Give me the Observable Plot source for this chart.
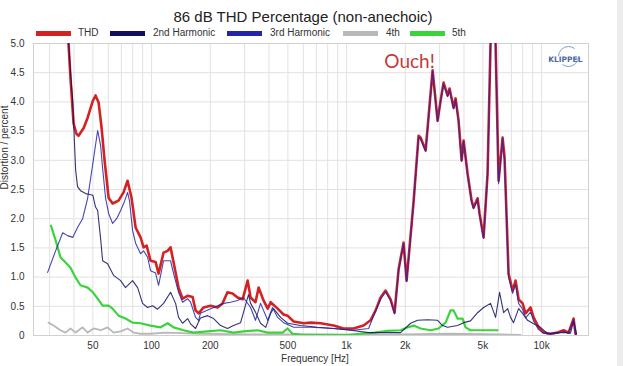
<!DOCTYPE html>
<html><head><meta charset="utf-8">
<script src="https://cdn.jsdelivr.net/npm/d3@7"></script>
<script src="https://cdn.jsdelivr.net/npm/@observablehq/plot@0.6"></script>
<style>
body{margin:0;background:#fff;}
#wrap{position:relative;width:625px;height:366px;overflow:hidden;background:#fff;
  font-family:"Liberation Sans",Arial,sans-serif;}
#title{position:absolute;top:8px;left:303px;transform:translateX(-50%);white-space:nowrap;font-size:15px;line-height:17px;color:#222;}
.lsw{position:absolute;top:31px;width:35px;height:5px;}
.llb{position:absolute;top:27px;font-size:10px;line-height:12px;color:#333;white-space:nowrap;}
#chart{position:absolute;top:38px;left:0;}
#strip{position:absolute;top:0;left:617px;width:6px;height:366px;background:#ececec;}
</style></head>
<body><div id="wrap"><div id="title">86 dB THD Percentage (non-anechoic)</div><div id="chart"></div><div id="strip"></div></div>
<script>
// ---- data: [frequency Hz, percent] ----
const seriesNames = ["THD", "2nd Harmonic", "3rd Harmonic", "4th", "5th"];
const seriesColors = ["#d42222", "#10105e", "#2424a8", "#b8b8b8", "#3ad43a"];

const thd = [[29.3,9.0],[34.1,6.8],[36.6,5.5],[37.5,5.0],[38.4,4.4],[39.8,3.63],[41.2,3.45],[42.2,3.42],[44.8,3.55],[47.0,3.73],[50.0,4.02],[51.6,4.11],[53.5,3.99],[55.4,3.56],[57.4,3.0],[60.2,2.36],[63.1,2.26],[67.7,2.31],[71.8,2.45],[75.3,2.65],[78.9,2.36],[82.8,1.85],[87.8,1.68],[91.0,1.51],[94.3,1.54],[98.8,1.28],[104.8,1.26],[108.6,1.06],[115.2,1.42],[120.8,1.45],[125.1,1.51],[129.7,1.25],[137.5,0.82],[144.2,0.63],[153,0.68],[162.3,0.66],[168.1,0.43],[174.2,0.38],[184.8,0.48],[201,0.51],[218,0.48],[231,0.55],[245,0.74],[260,0.72],[276,0.65],[293,0.62],[311,0.94],[322,0.65],[341,0.57],[354,0.82],[375,0.60],[394,0.46],[408,0.57],[443,0.46],[475,0.36],[498,0.34],[535,0.24],[602,0.21],[654,0.22],[736,0.21],[858,0.17],[965,0.12],[1086,0.12],[1222,0.17],[1327,0.26],[1409,0.43],[1494,0.65],[1585,0.77],[1681,0.62],[1762,0.39],[1849,1.14],[1960,1.59],[2031,0.94],[2179,2.09],[2208,2.31],[2340,3.42],[2395,3.39],[2543,3.17],[2761,4.54],[2929,3.68],[3033,4.02],[3143,4.33],[3296,4.11],[3373,4.23],[3537,3.90],[3622,4.06],[3752,3.68],[3890,3.00],[3981,3.34],[4174,2.77],[4376,2.31],[4479,2.19],[4695,2.35],[4806,2.09],[5041,1.68],[5284,2.77],[5473,5.0],[5607,5.8],[5808,5.0],[6019,2.65],[6310,3.39],[6457,3.05],[6771,1.06],[7100,0.77],[7356,0.94],[7623,0.62],[7990,0.55],[8277,0.38],[8777,0.48],[9099,0.31],[9655,0.14],[10240,0.05],[11115,0.03],[12078,0.05],[12971,0.09],[13752,0.05],[14590,0.29],[14930,0.03]];

const h2 = [[29.3,8.0],[34.1,6.5],[37.1,5.3],[38.4,4.5],[39.4,4.0],[40.8,2.83],[41.7,2.55],[43.2,2.48],[45.9,2.43],[47.5,2.42],[50.0,2.40],[51.6,2.2],[52.9,2.14],[54.8,1.65],[56.1,1.28],[59.5,1.23],[63.8,1.03],[69.4,0.94],[73.5,0.82],[79.9,0.94],[84.8,0.82],[89.9,0.55],[95.4,0.48],[101.2,0.51],[107.3,0.45],[115.2,0.55],[125.1,0.74],[132.8,0.55],[137.5,0.31],[144.2,0.21],[153,0.29],[158.5,0.2],[168.1,0.12],[178,0.30],[193.7,0.34],[208,0.29],[226,0.17],[245,0.12],[263,0.17],[286,0.22],[314,0.70],[322,0.55],[341,0.40],[362,0.21],[385,0.14],[408,0.38],[422,0.46],[459,0.31],[498,0.21],[581,0.17],[710,0.14],[858,0.12],[1049,0.09],[1297,0.05],[1494,0.05],[1892,0.05],[2129,0.21],[2312,0.26],[2602,0.27],[2929,0.26],[3106,0.17],[3296,0.14],[3706,0.17],[3981,0.22],[4322,0.25],[4695,0.39],[5041,0.48],[5473,0.55],[5808,0.31],[6090,0.74],[6385,0.39],[6696,0.46],[6931,0.31],[7182,0.22],[7623,0.46],[7990,0.38],[8477,0.26],[9099,0.20],[9877,0.14],[10735,0.03],[12078,0.05],[13273,0.05],[14075,0.04],[14590,0.25],[15110,0.02]];

const h3 = [[29.3,1.08],[32.2,1.45],[35.0,1.76],[37.1,1.71],[39.4,1.68],[41.7,1.85],[44.3,2.0],[47.0,2.35],[50.0,2.95],[52.9,3.51],[54.8,3.25],[56.1,2.86],[58.1,2.35],[60.2,2.09],[63.1,1.92],[66.2,2.0],[69.4,2.14],[72.7,2.30],[75.3,2.45],[77.1,2.3],[79.9,1.8],[82.8,1.58],[87.8,1.40],[91.0,1.45],[95.4,1.34],[98.8,1.11],[104.8,1.07],[108.6,0.86],[115.2,1.28],[125.1,1.28],[129.7,1.06],[137.5,0.74],[144.2,0.57],[153,0.63],[158.5,0.57],[168.1,0.31],[174.2,0.26],[178,0.38],[201,0.46],[234,0.55],[254,0.57],[276,0.60],[296,0.65],[322,0.48],[341,0.26],[362,0.55],[394,0.26],[417,0.48],[443,0.31],[475,0.22],[535,0.14],[654,0.14],[858,0.12],[1086,0.09],[1297,0.12],[1392,0.38],[1494,0.62],[1585,0.75],[1681,0.60],[1762,0.37],[1849,1.12],[1960,1.57],[2031,0.92],[2179,2.07],[2208,2.29],[2340,3.40],[2395,3.37],[2543,3.15],[2761,4.52],[2929,3.66],[3033,4.00],[3143,4.31],[3296,4.09],[3373,4.21],[3537,3.88],[3622,4.04],[3752,3.66],[3890,2.98],[3981,3.32],[4174,2.75],[4376,2.29],[4479,2.17],[4695,2.33],[4806,2.07],[5041,1.66],[5284,2.75],[5473,4.98],[5607,5.78],[5808,4.98],[6019,2.60],[6310,3.37],[6457,3.0],[6771,1.0],[7100,0.72],[7356,0.88],[7623,0.55],[7990,0.45],[8277,0.30],[8777,0.40],[9099,0.25],[9655,0.10],[10240,0.04],[11115,0.02],[12078,0.04],[12971,0.07],[13752,0.04],[14590,0.27],[14930,0.02]];

const h4 = [[29.6,0.22],[31.4,0.17],[34.1,0.09],[36.2,0.05],[38.4,0.12],[40.8,0.05],[44.3,0.14],[47.0,0.05],[50.4,0.12],[54.8,0.09],[59.5,0.14],[63.8,0.05],[69.4,0.07],[75.3,0.12],[80.8,0.05],[87.8,0.03],[98.8,0.03],[118,0.05],[141,0.04],[178,0.03],[322,0.02],[581,0.02],[1049,0.01],[1892,0.02],[3413,0.03],[6159,0.02],[7800,0.01]];

const h5 = [[30.5,1.88],[32.2,1.63],[34.1,1.34],[36.2,1.25],[38.4,1.16],[40.8,0.99],[43.2,0.86],[47.0,0.82],[50.0,0.74],[52.9,0.63],[56.1,0.51],[60.2,0.51],[63.1,0.46],[67.7,0.34],[73.5,0.29],[79.9,0.22],[87.8,0.21],[98.8,0.17],[111.2,0.14],[120.8,0.21],[129.7,0.14],[145.9,0.09],[164.2,0.05],[193.7,0.07],[226,0.09],[263,0.05],[296,0.07],[349.7,0.09],[394,0.05],[469.6,0.05],[498,0.12],[528.5,0.03],[602,0.01],[799,0.01],[1012,0.01],[1180,0.03],[1392,0.05],[1622,0.08],[1892,0.09],[2054,0.14],[2208,0.17],[2395,0.12],[2695,0.09],[2963,0.12],[3219,0.22],[3413,0.43],[3537,0.43],[3706,0.29],[3935,0.29],[4076,0.14],[4322,0.09],[4864,0.09],[5473,0.09],[5946,0.09]];

const xTicks = [50, 100, 200, 500, 1000, 2000, 5000, 10000];
const xTickLabels = ["50", "100", "200", "500", "1k", "2k", "5k", "10k"];
const gridFreqs = [30,40,50,60,70,80,90,100,200,300,400,500,600,700,800,900,1000,2000,3000,4000,5000,6000,7000,8000,9000,10000];
const yTicks = [0, 0.5, 1, 1.5, 2, 2.5, 3, 3.5, 4, 4.5, 5];
const annotations = [{f: 2104, v: 4.68, text: "Ouch!"}];

// legend layout (pixel positions of swatch and label)
const legendSwatchX = [36, 110, 227, 343, 410];
const legendLabelX = [78, 153, 270, 386, 452];
const wrap = document.getElementById("wrap");
seriesNames.forEach((n, i) => {
  const sw = document.createElement("div"); sw.className = "lsw";
  sw.style.left = legendSwatchX[i] + "px"; sw.style.background = seriesColors[i];
  const lb = document.createElement("div"); lb.className = "llb";
  lb.style.left = legendLabelX[i] + "px"; lb.textContent = n;
  wrap.appendChild(sw); wrap.appendChild(lb);
});

const font = '"Liberation Sans",Arial,sans-serif';
const fx = d => d[0], fy = d => d[1];
const chart = Plot.plot({
  width: 625, height: 328,
  marginTop: 5, marginBottom: 31, marginLeft: 33, marginRight: 37,
  style: {fontFamily: font, fontSize: "10px", color: "#333", background: "white"},
  x: {type: "log", domain: [24.8, 17400], axis: null},
  y: {domain: [0, 5], axis: null},
  marks: [
    Plot.gridX(gridFreqs, {stroke: "#e2e2e2", strokeOpacity: 1}),
    Plot.gridY(yTicks, {stroke: "#e2e2e2", strokeOpacity: 1}),
    Plot.frame({stroke: "#d0d0d0"}),
    Plot.text(xTicks, {x: d => d, text: (d, i) => xTickLabels[i], frameAnchor: "bottom", dy: 13, fill: "#333"}),
    Plot.text(["Frequency [Hz]"], {frameAnchor: "bottom", dy: 26, dx: 4, fill: "#333"}),
    Plot.text(yTicks, {y: d => d, text: d => d === 0 ? "0" : d.toFixed(1), frameAnchor: "left", textAnchor: "end", dx: -9, fill: "#333"}),
    Plot.text(["Distortion / percent"], {frameAnchor: "left", dx: -29, rotate: -90, fill: "#333"}),
    Plot.line(thd, {x: fx, y: fy, stroke: seriesColors[0], strokeWidth: 2.6, clip: true}),
    Plot.line(h4, {x: fx, y: fy, stroke: seriesColors[3], strokeWidth: 1.8, clip: true}),
    Plot.line(h5, {x: fx, y: fy, stroke: seriesColors[4], strokeWidth: 2.2, clip: true}),
    Plot.line(h2, {x: fx, y: fy, stroke: seriesColors[1], strokeWidth: 1.1, strokeOpacity: 0.85, clip: true}),
    Plot.line(h3, {x: fx, y: fy, stroke: seriesColors[2], strokeWidth: 1.1, strokeOpacity: 0.85, clip: true}),
    Plot.text(annotations, {x: "f", y: "v", text: "text", fill: "#c23a3a", fontSize: 19, fontFamily: "Lato, sans-serif"}),
    Plot.dot([0], {frameAnchor: "top-right", dx: -20, dy: 13, r: 10, stroke: "#7f9ccc", strokeWidth: 1, fill: "none", strokeDasharray: "22 9.4"}),
    Plot.text(["KLIPPEL"], {frameAnchor: "top-right", dx: -6, dy: 13, fill: "#4a6a9e", fontSize: 7.5, fontWeight: "bold", textAnchor: "end", fontFamily: "DejaVu Sans, sans-serif"})
  ]
});
document.getElementById("chart").appendChild(chart);
</script></body></html>
